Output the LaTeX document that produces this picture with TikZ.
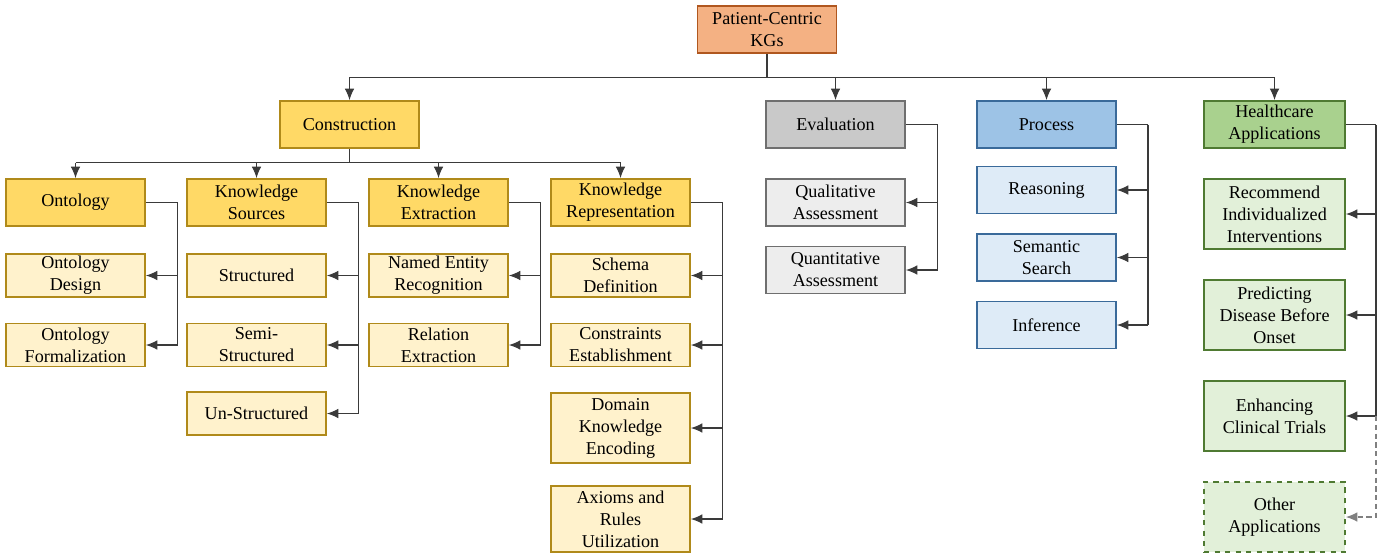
\documentclass[tikz,border=0pt]{standalone}
\usepackage{fontspec}
\setmainfont{Liberation Serif}
\usepackage{tikz}
\usetikzlibrary{arrows.meta}

\definecolor{rootfill}{HTML}{F4B183}
\definecolor{rootline}{HTML}{B0571F}
\definecolor{consfill}{HTML}{FFD966}
\definecolor{conslite}{HTML}{FFF2CC}
\definecolor{consline}{HTML}{B08A1A}
\definecolor{evalfill}{HTML}{C9C9C9}
\definecolor{evallite}{HTML}{EDEDED}
\definecolor{evalline}{HTML}{6F6F6F}
\definecolor{procfill}{HTML}{9DC3E6}
\definecolor{proclite}{HTML}{DEEBF7}
\definecolor{procline}{HTML}{3A6A9A}
\definecolor{hcfill}{HTML}{A9D18E}
\definecolor{hclite}{HTML}{E2F0D9}
\definecolor{hcline}{HTML}{4F7A32}
\definecolor{wire}{HTML}{3A3A3A}

\tikzset{
  every node/.append style={font=\fontsize{10.3}{12.5}\selectfont},
  box/.style={draw, line width=1.1pt, align=center, inner sep=1pt,
    minimum width=2.78cm, minimum height=0.94cm},
  rootbox/.style={box, fill=rootfill, draw=rootline},
  consbox/.style={box, fill=consfill, draw=consline},
  conssub/.style={box, fill=conslite, draw=consline, minimum height=0.86cm},
  evalbox/.style={box, fill=evalfill, draw=evalline},
  evalsub/.style={box, fill=evallite, draw=evalline},
  procbox/.style={box, fill=procfill, draw=procline},
  procsub/.style={box, fill=proclite, draw=procline},
  hcbox/.style={box, fill=hcfill, draw=hcline, minimum width=2.82cm},
  hcsub/.style={box, fill=hclite, draw=hcline, minimum width=2.82cm, minimum height=1.40cm},
  wireline/.style={draw=wire, line width=0.6pt},
  arr/.style={wireline, -{Latex[length=6.5pt,width=5.5pt]}}
}

\begin{document}
\begin{tikzpicture}[x=0.02cm, y=-0.02cm]
    \useasboundingbox (0,0) rectangle (1391,554);

    \node[rootbox] (root) at (767,29.5) {Patient-Centric\\KGs};

    \node[consbox] (cons) at (349.5,124.5) {Construction};
    \node[evalbox] (eval) at (835.5,124.5) {Evaluation};
    \node[procbox] (proc) at (1046.5,124.5) {Process};
    \node[hcbox] (hc) at (1274.5,124.5) {Healthcare\\Applications};

    \node[consbox] (ont) at (75.5,202.5) {Ontology};
    \node[consbox] (ks) at (256.5,202.5) {Knowledge\\Sources};
    \node[consbox] (ke) at (438.5,202.5) {Knowledge\\Extraction};
    \node[consbox] (kr) at (620.5,202.5) {Knowledge\\Representation};

    \node[conssub] (ontd) at (75.5,275.5) {Ontology\\Design};
    \node[conssub] (ontf) at (75.5,345) {Ontology\\Formalization};

    \node[conssub] (kss) at (256.5,275.5) {Structured};
    \node[conssub] (kssemi) at (256.5,345) {Semi-\\Structured};
    \node[conssub] (ksun) at (256.5,413.5) {Un-Structured};

    \node[conssub] (ner) at (438.5,275.5) {Named Entity\\Recognition};
    \node[conssub] (rel) at (438.5,345) {Relation\\Extraction};

    \node[conssub] (schema) at (620.5,275.5) {Schema\\Definition};
    \node[conssub] (constr) at (620.5,345) {Constraints\\Establishment};
    \node[conssub, minimum height=1.40cm] (dke) at (620.5,428) {Domain\\Knowledge\\Encoding};
    \node[conssub, minimum height=1.32cm] (axiom) at (620.5,519) {Axioms and\\Rules\\Utilization};

    \node[evalsub] (qual) at (835.5,202.5) {Qualitative\\Assessment};
    \node[evalsub] (quant) at (835.5,270) {Quantitative\\Assessment};

    \node[procsub] (reas) at (1046.5,190) {Reasoning};
    \node[procsub] (sem) at (1046.5,257.5) {Semantic\\Search};
    \node[procsub] (inf) at (1046.5,325) {Inference};

    \node[hcsub] (rec) at (1274.5,214) {Recommend\\Individualized\\Interventions};
    \node[hcsub] (pred) at (1274.5,315) {Predicting\\Disease Before\\Onset};
    \node[hcsub] (enh) at (1274.5,416) {Enhancing\\Clinical Trials};
    \node[hcsub, dashed] (oth) at (1274.5,517) {Other\\Applications};

    % first level
    \draw[wireline] (root.south) -- ++(0,23.5) coordinate (rootbus);
    \draw[wireline] (rootbus -| cons.north) -- (rootbus -| hc.north);
    \draw[arr] (rootbus -| cons.north) -- (cons.north);
    \draw[arr] (rootbus -| eval.north) -- (eval.north);
    \draw[arr] (rootbus -| proc.north) -- (proc.north);
    \draw[arr] (rootbus -| hc.north) -- (hc.north);

    % construction
    \draw[wireline] (cons.south) -- ++(0,14) coordinate (consbus);
    \draw[wireline] (consbus -| ont.north) -- (consbus -| kr.north);
    \draw[arr] (consbus -| ont.north) -- (ont.north);
    \draw[arr] (consbus -| ks.north) -- (ks.north);
    \draw[arr] (consbus -| ke.north) -- (ke.north);
    \draw[arr] (consbus -| kr.north) -- (kr.north);

    \draw[wireline] (ont.east) -- ++(32,0) coordinate (ontbus);
    \draw[wireline] (ontbus) -- (ontbus |- ontf.east);
    \draw[arr] (ontbus |- ontd.east) -- (ontd.east);
    \draw[arr] (ontbus |- ontf.east) -- (ontf.east);

    \draw[wireline] (ks.east) -- ++(32,0) coordinate (ksbus);
    \draw[wireline] (ksbus) -- (ksbus |- ksun.east);
    \draw[arr] (ksbus |- kss.east) -- (kss.east);
    \draw[arr] (ksbus |- kssemi.east) -- (kssemi.east);
    \draw[arr] (ksbus |- ksun.east) -- (ksun.east);

    \draw[wireline] (ke.east) -- ++(32,0) coordinate (kebus);
    \draw[wireline] (kebus) -- (kebus |- rel.east);
    \draw[arr] (kebus |- ner.east) -- (ner.east);
    \draw[arr] (kebus |- rel.east) -- (rel.east);

    \draw[wireline] (kr.east) -- ++(32,0) coordinate (krbus);
    \draw[wireline] (krbus) -- (krbus |- axiom.east);
    \draw[arr] (krbus |- schema.east) -- (schema.east);
    \draw[arr] (krbus |- constr.east) -- (constr.east);
    \draw[arr] (krbus |- dke.east) -- (dke.east);
    \draw[arr] (krbus |- axiom.east) -- (axiom.east);

    % evaluation and process
    \draw[wireline] (eval.east) -- ++(32,0) coordinate (evalbus);
    \draw[wireline] (evalbus) -- (evalbus |- quant.east);
    \draw[arr] (evalbus |- qual.east) -- (qual.east);
    \draw[arr] (evalbus |- quant.east) -- (quant.east);

    \draw[wireline] (proc.east) -- ++(31,0) coordinate (procbus);
    \draw[wireline] (procbus) -- (procbus |- inf.east);
    \draw[arr] (procbus |- reas.east) -- (reas.east);
    \draw[arr] (procbus |- sem.east) -- (sem.east);
    \draw[arr] (procbus |- inf.east) -- (inf.east);

    % applications
    \draw[wireline] (hc.east) -- ++(30,0) coordinate (hcbus);
    \draw[wireline] (hcbus) -- (hcbus |- enh.east);
    \draw[arr] (hcbus |- rec.east) -- (rec.east);
    \draw[arr] (hcbus |- pred.east) -- (pred.east);
    \draw[arr] (hcbus |- enh.east) -- (enh.east);
    \draw[arr, densely dashed, draw=gray] (hcbus |- enh.east) |- (oth.east);

\end{tikzpicture}
\end{document}
